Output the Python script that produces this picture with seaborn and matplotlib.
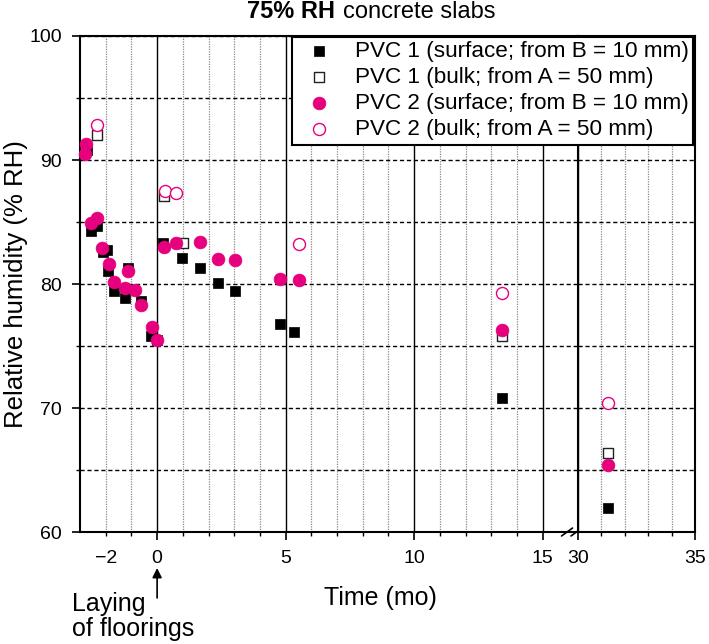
import pandas as pd
import seaborn as sns
import matplotlib.pyplot as plt
from matplotlib.ticker import FixedLocator, FuncFormatter, MultipleLocator

sns.set_style("ticks", {"axes.edgecolor": "black", "xtick.color": "black",
                        "ytick.color": "black", "text.color": "black",
                        "axes.labelcolor": "black"})
plt.rcParams['font.family'] = ['Liberation Sans', 'DejaVu Sans']

# --- data (time in months, RH in %) ---
pvc1_surf_x = [-2.72, -2.59, -2.33, -2.12, -1.93, -1.90, -1.67, -1.26, -1.13, -0.63,
               -0.22, 0.00, 0.23, 0.96, 1.66, 2.35, 3.02, 4.77, 5.32, 13.41, 31.27]
pvc1_surf_y = [90.8, 84.3, 84.7, 82.6, 82.75, 81.05, 79.45, 78.85, 81.3, 78.6,
               75.8, 75.5, 83.3, 82.1, 81.3, 80.1, 79.45, 76.8, 76.1, 70.8, 61.9]

pvc1_bulk_x = [-2.33, 0.26, 0.99, 13.41, 31.27]
pvc1_bulk_y = [92.0, 87.1, 83.3, 75.8, 66.4]

pvc2_surf_x = [-2.81, -2.77, -2.59, -2.33, -2.14, -1.88, -1.67, -1.23, -1.13, -0.87,
               -0.63, -0.19, 0.00, 0.27, 0.75, 1.66, 2.35, 3.02, 4.77, 5.53, 13.41, 31.27]
pvc2_surf_y = [90.45, 91.3, 84.95, 85.3, 82.9, 81.6, 80.2, 79.65, 81.05, 79.5,
               78.3, 76.5, 75.5, 83.0, 83.3, 83.4, 82.0, 81.9, 80.4, 80.3, 76.3, 65.4]

pvc2_bulk_x = [-2.32, 0.30, 0.75, 5.53, 13.41, 31.27]
pvc2_bulk_y = [92.8, 87.5, 87.3, 83.2, 79.3, 70.4]

labels = ["PVC 1 (surface; from B = 10 mm)", "PVC 1 (bulk; from A = 50 mm)",
          "PVC 2 (surface; from B = 10 mm)", "PVC 2 (bulk; from A = 50 mm)"]

pink = '#e6007e'
styles = [dict(marker='s', s=58, color='black', edgecolor='black', linewidth=0.5),
          dict(marker='s', s=50, color='white', edgecolor='#222222', linewidth=1.0),
          dict(marker='o', s=85, color=pink, edgecolor=pink, linewidth=0.5),
          dict(marker='o', s=75, color='white', edgecolor=pink, linewidth=1.0)]

series = [(pvc1_surf_x, pvc1_surf_y), (pvc1_bulk_x, pvc1_bulk_y),
          (pvc2_surf_x, pvc2_surf_y), (pvc2_bulk_x, pvc2_bulk_y)]

fig = plt.figure(figsize=(7.09, 6.44), dpi=100)
ax1 = fig.add_axes([0.1128, 0.1739, 0.7024, 0.7702])
ax2 = fig.add_axes([0.8152, 0.1739, 0.1650, 0.7702], sharey=ax1)

for (xs, ys), lab, kw in zip(series, labels, styles):
    df = pd.DataFrame({'time': xs, 'rh': ys})
    sns.scatterplot(data=df[df.time < 20], x='time', y='rh', ax=ax1, label=lab,
                    clip_on=False, zorder=3, **kw)
    sns.scatterplot(data=df[df.time >= 20], x='time', y='rh', ax=ax2,
                    clip_on=False, zorder=3, legend=False, **kw)

handles, labs = ax1.get_legend_handles_labels()
if ax1.get_legend() is not None:
    ax1.get_legend().remove()

# axes limits / ticks
ax1.set_xlim(-3, 16.37)
ax1.set_ylim(60, 100)
ax2.set_xlim(30, 35)

ax1.xaxis.set_major_locator(FixedLocator([0, 5, 10, 15]))
ax1.xaxis.set_minor_locator(FixedLocator([v for v in range(-2, 15) if v % 5]))
ax1.xaxis.set_minor_formatter(FuncFormatter(lambda v, p: '\u22122' if round(v) == -2 else ''))
ax1.yaxis.set_major_locator(MultipleLocator(10))
ax1.yaxis.set_minor_locator(MultipleLocator(5))

ax2.xaxis.set_major_locator(FixedLocator([30, 35]))
ax2.xaxis.set_minor_locator(FixedLocator([31, 32, 33, 34]))

for ax in (ax1, ax2):
    ax.tick_params(axis='both', which='major', direction='out', length=6, width=1.2,
                   labelsize=14, pad=7)
    ax.tick_params(axis='both', which='minor', direction='out', length=3, width=1.0,
                   labelsize=14, pad=10)
    ax.grid(axis='y', which='both', color='black', linestyle=(0, (3, 2)), linewidth=1.0)
    ax.grid(axis='x', which='major', color='black', linestyle='-', linewidth=1.0)
    ax.grid(axis='x', which='minor', color='#888888', linestyle=(0, (1, 1)), linewidth=0.9)
    for sp in ax.spines.values():
        sp.set_linewidth(1.5)
    ax.set_xlabel('')
    ax.set_ylabel('')

ax1.spines['right'].set_visible(False)
ax2.tick_params(axis='y', which='both', left=False, labelleft=False)

# broken axis marks
for cx in (0.978, 0.997):
    ax1.plot([cx - 0.011, cx + 0.011], [-0.008, 0.008], transform=ax1.transAxes,
             color='black', lw=1.2, clip_on=False)

# labels
ax1.set_ylabel('Relative humidity (% RH)', fontsize=18.5)
ax1.yaxis.set_label_coords(-0.104, 0.5)
ax1.set_xlabel('Time (mo)', fontsize=18)
ax1.xaxis.set_label_coords(0.604, -0.108)

ax1.text(-0.016, -0.12, 'Laying\nof floorings', transform=ax1.transAxes,
         ha='left', va='top', fontsize=18, linespacing=1.1)
ax1.annotate('', xy=(0, -0.0726), xytext=(0, -0.133),
             xycoords=('data', 'axes fraction'), textcoords=('data', 'axes fraction'),
             arrowprops=dict(arrowstyle='-|>', color='black', lw=1.2, mutation_scale=14,
                             shrinkA=0, shrinkB=0), annotation_clip=False)

# title: bold part + normal part
t1 = fig.text(0.348, 0.972, '75% RH', fontsize=17, fontweight='bold',
              ha='left', va='baseline')
ax1.annotate('concrete slabs', xy=(1, 0), xycoords=t1, xytext=(6, 0),
             textcoords='offset points', fontsize=17, ha='left', va='bottom',
             annotation_clip=False)

leg = fig.legend(handles, labs, loc='upper right', bbox_to_anchor=(0.9774, 0.943),
                 frameon=True, fancybox=False, edgecolor='black', framealpha=1,
                 borderpad=0.2, labelspacing=0.22, handlelength=2.0, handletextpad=0.6,
                 borderaxespad=0, fontsize=16.2, scatterpoints=1)
leg.get_frame().set_linewidth(1.5)

fig.savefig('out.png', dpi=100)
